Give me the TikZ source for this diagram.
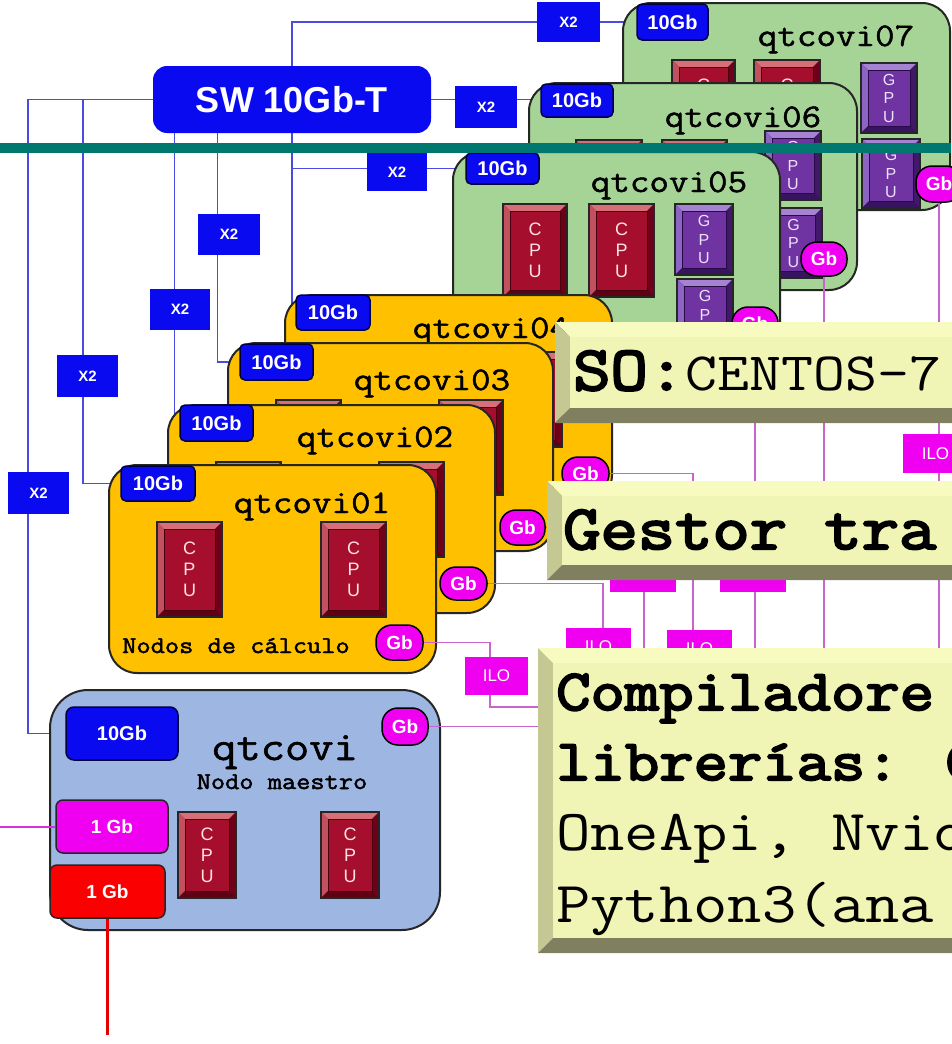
\documentclass[tikz,border=0pt]{standalone}
\usepackage{fontspec}
\setsansfont{Liberation Sans}
\newfontfamily\mono[FakeStretch=1.15]{Latin Modern Mono}
\newfontfamily\monob[FakeStretch=1.15,FakeBold=3.5]{Latin Modern Mono}
\newfontfamily\monot[FakeStretch=1.15,FakeBold=1.4]{Latin Modern Mono}
\newfontfamily\monom[FakeStretch=1.15,FakeBold=2]{Latin Modern Mono}
\usetikzlibrary{fit,calc}
\pgfdeclarelayer{paper}
\pgfdeclarelayer{back}
\pgfsetlayers{paper,back,main}
\definecolor{swblue}{RGB}{10,10,240}
\definecolor{lnblue}{RGB}{75,75,225}
\definecolor{mag}{RGB}{240,0,240}
\definecolor{lnmag}{RGB}{200,100,205}
\definecolor{lnmag2}{RGB}{215,50,215}
\definecolor{redbox}{RGB}{250,0,0}
\definecolor{cgreen}{RGB}{166,211,150}
\definecolor{corange}{RGB}{255,192,0}
\definecolor{cmaster}{RGB}{158,182,226}
\definecolor{tealbar}{RGB}{0,120,112}
\definecolor{yface}{RGB}{240,244,180}
\definecolor{ytop}{RGB}{248,251,192}
\definecolor{yleft}{RGB}{196,200,146}
\definecolor{ybot}{RGB}{128,128,96}
\definecolor{cpudk}{RGB}{70,0,15}
\definecolor{cputp}{RGB}{215,110,120}
\definecolor{cpulf}{RGB}{195,80,95}
\definecolor{cpurt}{RGB}{110,0,25}
\definecolor{cpubt}{RGB}{95,0,20}
\definecolor{cpufc}{RGB}{165,15,45}
\definecolor{cputx}{RGB}{255,225,230}
\definecolor{gpudk}{RGB}{40,10,70}
\definecolor{gputp}{RGB}{165,130,210}
\definecolor{gpulf}{RGB}{140,100,195}
\definecolor{gpurt}{RGB}{65,25,105}
\definecolor{gpubt}{RGB}{55,20,95}
\definecolor{gpufc}{RGB}{112,52,162}
\definecolor{gputx}{RGB}{235,225,250}
\tikzset{
  card/.style={draw=black!85, line width=2, rounded corners=28, inner sep=0},
  swbox/.style={fill=swblue, rounded corners=14, inner sep=0, text=white, font=\sffamily\bfseries\fontsize{36}{36}\selectfont},
  badge/.style={draw=black!75!blue, line width=1.5, fill=swblue, rounded corners=5, inner sep=0, text=white, font=\sffamily\bfseries\fontsize{20}{20}\selectfont},
  onegb/.style={draw=black!85, line width=1.5, rounded corners=7, inner sep=0, text=white, font=\sffamily\bfseries\fontsize{19}{19}\selectfont},
  xtwo/.style={fill=swblue, inner sep=0, text=white, font=\sffamily\bfseries\fontsize{15}{15}\selectfont},
  ilo/.style={fill=mag, inner sep=0, text=white, font=\sffamily\fontsize{17}{17}\selectfont},
  pill/.style={draw=black, line width=1.5, fill=mag, rounded corners=16, inner sep=0, text=white, font=\sffamily\bfseries\fontsize{19}{19}\selectfont},
  blink/.style={draw=lnblue, line width=1.3},
  mlink/.style={draw=lnmag, line width=1.6},
  title/.style={anchor=base, inner sep=0, font=\monot\fontsize{33}{33}\selectfont},
  cpuletters/.style={align=center, inner sep=0, font=\sffamily\fontsize{18}{21}\selectfont},
  gpuletters/.style={align=center, inner sep=0, font=\sffamily\fontsize{16}{18.5}\selectfont},
  bigtxt/.style={anchor=base west, inner sep=0},
}
\newcommand\boxat[7]{\node[#1, minimum width=#5-#3, minimum height=#6-#4] (#2) at ({(#3+#5)/2},{(#4+#6)/2}) {#7};}
\newcommand\chip[7]{%
  \fill[#6dk] (#2,#3) rectangle (#4,#5);
  \fill[#6tp] (#2,#3) -- (#4,#3) -- (#4-7,#3+7) -- (#2+7,#3+7) -- cycle;
  \fill[#6lf] (#2,#3) -- (#2+7,#3+7) -- (#2+7,#5-7) -- (#2,#5) -- cycle;
  \fill[#6rt] (#4,#3) -- (#4,#5) -- (#4-7,#5-7) -- (#4-7,#3+7) -- cycle;
  \fill[#6bt] (#2,#5) -- (#4,#5) -- (#4-7,#5-7) -- (#2+7,#5-7) -- cycle;
  \filldraw[fill=#6fc, draw=#6dk, line width=1] (#2+7,#3+7) rectangle (#4-7,#5-7);
  \draw[line width=1.3, black!85] (#2,#3) rectangle (#4,#5);
  \node[#6letters, text=#6tx] (#1) at ({(#2+#4)/2},{(#3+#5)/2}) {#7\\P\\U};
}
\newcommand\ybox[4]{%
  \fill[ytop] (#1,#2) -- (#3,#2) -- (#3-15,#2+15) -- (#1+15,#2+15) -- cycle;
  \fill[yleft] (#1,#2) -- (#1+15,#2+15) -- (#1+15,#4-15) -- (#1,#4) -- cycle;
  \fill[ybot] (#1,#4) -- (#3,#4) -- (#3-15,#4-15) -- (#1+15,#4-15) -- cycle;
  \fill[yface] (#1+15,#2+15) rectangle (#3-15,#4-15);
}
\begin{document}
\begin{tikzpicture}[x=1pt,y=-1pt]
\useasboundingbox (0,0) rectangle (951,1044);
\begin{pgfonlayer}{paper}
\fill[white] (0,0) rectangle (951,1044);
\end{pgfonlayer}
% invisible frames of the text panels (for connector ends)
\node[fit={(555,322)(1010,423)}, inner sep=0] (so) {};
\node[fit={(547,481)(1010,580)}, inner sep=0] (ge) {};
\node[fit={(538,648)(1010,953)}, inner sep=0] (comp) {};
\coordinate (k28) at (28,99.5);
\coordinate (k83) at (83,99.5);
\coordinate (m1) at (490,707);
\coordinate (lft) at (0,826.5);
\coordinate (bot) at (107.5,1035);

% switch
\boxat{swbox}{sw}{153}{66}{431}{133}{SW 10Gb-T}

% ---------- card 07
\boxat{card,fill=cgreen}{c07}{623}{3}{950}{210}{}
\chip{p71}{672}{60}{735}{152}{cpu}{C}
\chip{p72}{754}{60}{820}{152}{cpu}{C}
\chip{q71}{861}{63}{917}{133}{gpu}{G}
\chip{q72}{862}{139}{920}{208}{gpu}{G}
\node[title] (t07) at (836,46) {qtcovi07};
\boxat{badge}{b07}{637}{4}{708}{40}{10Gb}
\boxat{pill}{g07}{916}{166}{962}{202}{Gb}

% ---------- card 06
\boxat{card,fill=cgreen}{c06}{529}{83}{857}{290}{}
\chip{p61}{576}{140}{642}{232}{cpu}{C}
\chip{p62}{662}{140}{727}{232}{cpu}{C}
\chip{q61}{765}{131}{821}{200}{gpu}{G}
\chip{q62}{765}{208}{822}{278}{gpu}{G}
\node[title] (t06) at (743,127) {qtcovi06};
\boxat{badge}{b06}{541}{84}{613}{117}{10Gb}
\boxat{pill}{g06}{801}{242}{847}{276}{Gb}

% ---------- card 05
\boxat{card,fill=cgreen}{c05}{453}{152}{780}{360}{}
\chip{p51}{503}{204}{567}{297}{cpu}{C}
\chip{p52}{589}{204}{654}{297}{cpu}{C}
\chip{q51}{675}{204}{733}{275}{gpu}{G}
\chip{q52}{677}{279}{733}{350}{gpu}{G}
\node[title] (t05) at (669,192) {qtcovi05};
\boxat{badge}{b05}{466}{153}{539}{184}{10Gb}
\boxat{pill}{g05}{732}{307}{778}{340}{Gb}

% teal bar
\fill[tealbar] (0,143) rectangle (951,152.5);

% ---------- card 04
\boxat{card,fill=corange}{c04}{285}{295}{612}{503}{}
\chip{p41}{333}{352}{398}{447}{cpu}{C}
\chip{p42}{497}{352}{562}{447}{cpu}{C}
\node[title] (t04) at (491,338) {qtcovi04};
\boxat{badge}{b04}{296}{295}{370}{330}{10Gb}
\boxat{pill}{g04}{562}{457}{609}{490}{Gb}

% ---------- card 03
\boxat{card,fill=corange}{c03}{228}{343}{553}{551}{}
\chip{p31}{276}{400}{341}{495}{cpu}{C}
\chip{p32}{439}{400}{503}{495}{cpu}{C}
\node[title] (t03) at (432,390) {qtcovi03};
\boxat{badge}{b03}{240}{344}{313}{380}{10Gb}
\boxat{pill}{g03}{500}{510}{545}{545}{Gb}

% ---------- card 02
\boxat{card,fill=corange}{c02}{168}{405}{495}{613}{}
\chip{p21}{216}{462}{281}{557}{cpu}{C}
\chip{p22}{379}{462}{444}{557}{cpu}{C}
\node[title] (t02) at (375,447) {qtcovi02};
\boxat{badge}{b02}{180}{405}{253}{441}{10Gb}
\boxat{pill}{g02}{440}{567}{487}{600}{Gb}

% ---------- card 01
\boxat{card,fill=corange}{c01}{109}{465}{436}{673}{}
\chip{p11}{157}{522}{222}{617}{cpu}{C}
\chip{p12}{321}{522}{386}{617}{cpu}{C}
\node[title] (t01) at (312,513) {qtcovi01};
\node[anchor=base, inner sep=0, font=\monom\fontsize{24}{24}\selectfont] (nc) at (236,653) {Nodos de cálculo};
\boxat{badge}{b01}{121}{466}{195}{501}{10Gb}
\boxat{pill}{g01}{376}{625}{423}{660}{Gb}

% ---------- master
\boxat{card,fill=cmaster,rounded corners=38}{cm}{50}{690}{440}{930}{}
\chip{pm1}{178}{812}{236}{898}{cpu}{C}
\chip{pm2}{321}{812}{379}{898}{cpu}{C}
\node[anchor=base, inner sep=0, font=\monot\fontsize{41}{41}\selectfont] (tm) at (285,760) {qtcovi};
\node[anchor=base, inner sep=0, font=\monom\fontsize{24}{24}\selectfont] (nm) at (282,789) {Nodo maestro};
\boxat{badge,rounded corners=8}{bm}{66}{707}{178}{760}{10Gb}
\boxat{pill}{gm}{382}{708}{428}{745}{Gb}
\boxat{onegb,fill=mag}{mg}{56}{800}{168}{853}{1 Gb}
\boxat{onegb,fill=redbox}{rb}{50}{865}{165}{918}{1 Gb}

% ---------- links of the management network
\draw[mlink] (g01.east) -| (m1) -- (m1 -| comp.west);
\draw[mlink] (gm.east) -- (gm.east -| comp.west);
\draw[mlink] (g02.east) -| ($(comp.north west)+(65,0)$);
\draw[mlink] (g03.east) -| ($(comp.north west)+(106,0)$);
\draw[mlink] (g04.east) -| ($(comp.north west)+(155,0)$);
\draw[mlink] (g05.south) -- (g05.south |- comp.north);
\draw[mlink] (g06.south) -- (g06.south |- comp.north);
\draw[mlink] (g07.south) -- (g07.south |- comp.north);
\draw[draw=lnmag2, line width=2] (mg.west) -- (lft);
\draw[draw=red!90!black, line width=2.5] (rb.south) -- (bot);

% ILO boxes
\boxat{ilo}{i1}{465}{657}{528}{695}{ILO}
\boxat{ilo}{i2}{566}{628}{631}{666}{ILO}
\boxat{ilo}{i3}{610}{554}{676}{592}{ILO}
\boxat{ilo}{i4}{667}{630}{732}{668}{ILO}
\boxat{ilo}{i5}{720}{554}{786}{592}{ILO}
\boxat{ilo}{i7}{903}{434}{968}{473}{ILO}

% X2 boxes
\boxat{xtwo}{x7}{537}{2}{600}{42}{X2}
\boxat{xtwo}{x6}{455}{86}{517}{128}{X2}
\boxat{xtwo}{x5}{367}{153}{427}{191}{X2}
\boxat{xtwo}{x3}{198}{214}{260}{255}{X2}
\boxat{xtwo}{x2}{150}{289}{210}{330}{X2}
\boxat{xtwo}{x1}{57}{355}{118}{397}{X2}
\boxat{xtwo}{x0}{8}{472}{69}{514}{X2}

% ---------- text panels
\ybox{555}{322}{1010}{423}
\node[bigtxt] (sotxt) at (573,390) {{\monob\fontsize{63}{63}\selectfont SO:}{\mono\fontsize{54}{54}\selectfont CENTOS-7}};
\ybox{547}{481}{1010}{580}
\node[bigtxt, font=\monob\fontsize{63}{63}\selectfont] (getxt) at (563,549) {Gestor tra};
\ybox{538}{648}{1010}{953}
\node[bigtxt, font=\monob\fontsize{58}{58}\selectfont] (ct1) at (556,710) {Compiladore};
\node[bigtxt, font=\monob\fontsize{58}{58}\selectfont] (ct2) at (556,780) {librerías: C};
\node[bigtxt, font=\mono\fontsize{58}{58}\selectfont] (ct3) at (556,850) {OneApi, Nvid};
\node[bigtxt, font=\mono\fontsize{58}{58}\selectfont] (ct4) at (556,922) {Python3(ana};

% ---------- data network (behind everything)
\begin{pgfonlayer}{back}
\draw[blink] (sw.north) |- (b07.west);
\draw[blink] (sw.east) -- (sw.east -| b06.west);
\draw[blink] (sw.south) |- (b05.west);
\draw[blink] (sw.south) |- (b04.west);
\draw[blink] ($(sw.south west)+(65,0)$) |- (b03.west);
\draw[blink] ($(sw.south west)+(22,0)$) |- (b02.west);
\draw[blink] (sw.west) -- (k28) |- (bm.west);
\draw[blink] (k83) |- (b01.west);
\end{pgfonlayer}
\end{tikzpicture}
\end{document}
